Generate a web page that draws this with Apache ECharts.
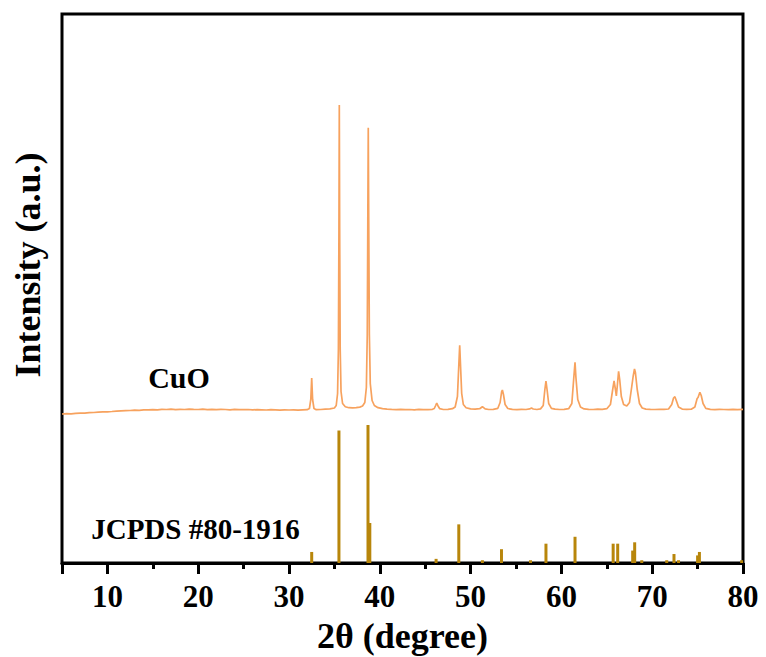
<!DOCTYPE html>
<html>
<head>
<meta charset="utf-8">
<script src="https://cdn.jsdelivr.net/npm/echarts@6/dist/echarts.min.js"></script>
<style>
html,body{margin:0;padding:0;background:#fff;}
#chart{width:766px;height:657px;}
</style>
</head>
<body>
<div id="chart"></div>
<script>
// X tick labels (2θ, degree)
var xTickLabels = [10, 20, 30, 40, 50, 60, 70, 80];

// CuO measured pattern: [2θ, intensity (a.u.)]
var cuoPattern = [
  [5.0,55],[5.5,58],[6.0,57],[6.5,62],[7.0,64],[7.5,63],[8.0,68],[8.5,70],[9.0,73],[9.5,76],
  [10.0,77],[10.5,80],[11.0,84],[11.5,86],[12.0,88],[12.5,90],[13.0,93],[13.5,92],[14.0,96],[14.5,97],
  [15.0,99],[15.5,97],[16.0,101],[16.5,100],[17.0,103],[17.5,99],[18.0,102],[18.5,100],[19.0,104],[19.5,101],
  [20.0,100],[20.5,103],[21.0,99],[21.5,101],[22.0,98],[22.5,102],[23.0,100],[23.5,97],[24.0,101],[24.5,99],
  [25.0,98],[25.5,100],[26.0,96],[26.5,99],[27.0,97],[27.5,95],[28.0,98],[28.5,96],[29.0,94],[29.5,97],
  [30.0,95],[30.5,96],[31.0,93],[31.5,97],[32.0,98],
  [32.25,110],[32.4,200],[32.5,415],[32.6,200],[32.75,110],[33.0,98],[33.5,100],[34.0,103],[34.5,106],
  [35.0,115],[35.2,140],[35.35,260],[35.44,700],[35.5,1900],[35.54,3145],[35.58,1900],[35.64,700],[35.73,280],
  [35.9,160],[36.2,128],[36.6,118],[37.0,116],[37.4,119],[37.8,124],[38.1,135],[38.35,170],[38.52,320],
  [38.62,850],[38.68,2000],[38.73,2918],[38.78,2000],[38.85,850],[38.95,360],[39.15,190],[39.4,140],
  [39.8,118],[40.3,108],[40.8,104],[41.3,101],[41.8,99],[42.3,102],[42.8,98],[43.3,100],[43.8,97],
  [44.3,101],[44.8,99],[45.3,98],[45.8,102],[46.0,110],[46.15,140],[46.27,165],[46.4,138],[46.6,108],
  [47.0,100],[47.5,102],[48.0,108],[48.3,125],[48.55,230],[48.68,500],[48.8,742],[48.9,520],[49.02,260],
  [49.2,150],[49.5,118],[50.0,106],[50.5,103],[51.0,108],[51.3,128],[51.6,106],[52.0,100],[52.5,102],
  [53.0,112],[53.25,170],[53.42,280],[53.5,295],[53.62,250],[53.8,150],[54.1,110],[54.6,101],[55.1,99],
  [55.6,102],[56.1,100],[56.5,106],[56.7,115],[56.9,105],[57.3,100],[57.7,106],[58.0,140],[58.18,300],
  [58.3,385],[58.42,300],[58.6,160],[58.9,112],[59.3,103],[59.8,100],[60.3,102],[60.8,108],[61.15,160],
  [61.35,400],[61.5,572],[61.6,420],[61.8,200],[62.1,125],[62.5,106],[63.0,102],[63.5,100],[64.0,103],
  [64.5,101],[65.0,108],[65.4,150],[65.65,300],[65.8,385],[65.95,300],[66.05,235],[66.15,330],[66.3,482],
  [66.42,400],[66.6,230],[66.85,150],[67.2,135],[67.5,170],[67.75,330],[67.9,430],[68.05,505],[68.15,470],
  [68.35,300],[68.6,160],[68.9,115],[69.3,104],[69.8,101],[70.3,100],[70.8,102],[71.3,101],[71.8,105],
  [72.15,150],[72.35,215],[72.5,228],[72.65,190],[72.9,125],[73.3,104],[73.8,101],[74.3,103],[74.7,125],
  [74.95,210],[75.05,220],[75.25,272],[75.4,240],[75.6,160],[75.9,112],[76.4,101],[76.9,99],[77.4,102],
  [77.9,100],[78.4,98],[78.9,101],[79.4,99],[80.0,102]
];

// JCPDS #80-1916 reference lines: [2θ, relative intensity %]
var jcpdsLines = [
  [32.5,8],[35.5,96],[38.7,100],[38.9,29],[46.2,3],[48.7,28],[51.3,2],[53.4,10],[56.6,2],
  [58.3,14],[61.5,19],[65.7,14],[66.2,14],[67.85,9],[68.07,15],[68.85,2],[71.6,2],[72.4,6.5],
  [72.9,2],[75.0,5.5],[75.2,8],[79.85,2]
];

var serif = '"Liberation Serif", "Times New Roman", serif';

var chart = echarts.init(document.getElementById('chart'), null, {renderer: 'svg'});
chart.setOption({
  animation: false,
  backgroundColor: '#fff',
  grid: {
    left: 62, right: 23, top: 14, bottom: 94,
    show: true, borderColor: '#000', borderWidth: 3, backgroundColor: 'transparent'
  },
  xAxis: [{
    // every 5 degrees: short ticks + labels on the tens
    type: 'value', min: 5, max: 80, interval: 5,
    axisLine: {show: true, onZero: false, lineStyle: {color: '#000', width: 3}},
    axisTick: {show: true, inside: false, length: 6, lineStyle: {color: '#000', width: 3}},
    axisLabel: {show: true, margin: 18, color: '#000', showMinLabel: false,
      fontFamily: serif, fontWeight: 'bold', fontSize: 31,
      formatter: function (v) { return xTickLabels.indexOf(v) >= 0 ? String(v) : ''; }},
    splitLine: {show: false}
  }, {
    // long ticks on the tens
    type: 'value', min: 5, max: 80, splitNumber: 8, position: 'bottom',
    axisLine: {show: false, onZero: false},
    axisTick: {show: true, inside: false, length: 11, lineStyle: {color: '#000', width: 3}},
    axisLabel: {show: false},
    splitLine: {show: false}
  }],
  yAxis: [{
    type: 'value', min: -1435, max: 4055, show: false, splitLine: {show: false}
  }, {
    type: 'value', min: 0, max: 397.8, show: false, splitLine: {show: false}
  }],
  series: [{
    name: 'CuO', type: 'line', xAxisIndex: 0, yAxisIndex: 0,
    data: cuoPattern, showSymbol: false, symbol: 'none',
    lineStyle: {color: '#F7A25E', width: 1.7}
  }, {
    name: 'JCPDS #80-1916', type: 'bar', xAxisIndex: 0, yAxisIndex: 1,
    data: jcpdsLines, barWidth: 3,
    itemStyle: {color: '#B8860B'}
  }],
  graphic: [{
    type: 'text', x: 179, y: 377,
    style: {text: 'CuO', fill: '#000', font: 'bold 30px ' + serif, align: 'center', verticalAlign: 'middle'}
  }, {
    type: 'text', x: 195.5, y: 529,
    style: {text: 'JCPDS #80-1916', fill: '#000', font: 'bold 29px ' + serif, align: 'center', verticalAlign: 'middle'}
  }, {
    type: 'text', x: 402.5, y: 636,
    style: {text: '2θ (degree)', fill: '#000', font: 'bold 36px ' + serif, align: 'center', verticalAlign: 'middle'}
  }, {
    type: 'text', x: 28, y: 265, rotation: Math.PI / 2,
    style: {text: 'Intensity (a.u.)', fill: '#000', font: 'bold 36px ' + serif, align: 'center', verticalAlign: 'middle'}
  }]
});
</script>
</body>
</html>
